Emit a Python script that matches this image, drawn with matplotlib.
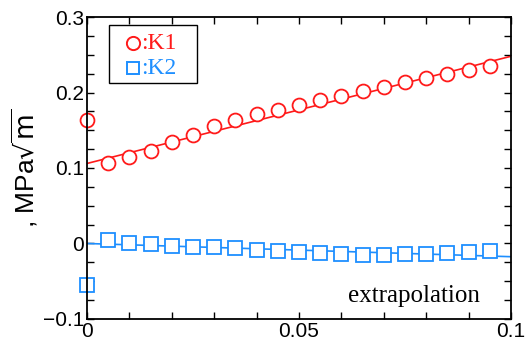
import matplotlib
matplotlib.use("Agg")
import matplotlib.pyplot as plt
from matplotlib.patches import Rectangle
from matplotlib.ticker import MultipleLocator, FixedLocator

# data
x_k1 = [0.0, 0.005, 0.01, 0.015, 0.02, 0.025, 0.03, 0.035, 0.04, 0.045,
        0.05, 0.055, 0.06, 0.065, 0.07, 0.075, 0.08, 0.085, 0.09, 0.095]
k1 = [0.163, 0.107, 0.114, 0.123, 0.134, 0.144, 0.155, 0.163, 0.171, 0.177,
      0.183, 0.190, 0.195, 0.202, 0.207, 0.214, 0.219, 0.225, 0.230, 0.235]
x_k2 = x_k1
k2 = [-0.055, 0.004, 0.001, -0.001, -0.003, -0.004, -0.005, -0.006, -0.008, -0.010,
      -0.011, -0.013, -0.014, -0.015, -0.015, -0.014, -0.0135, -0.013, -0.011, -0.0095]
# extrapolation lines (end points)
fit_x = [0.0, 0.1]
fit_k1 = [0.106, 0.248]
fit_k2 = [0.0, -0.0175]

xticks = [0, 0.05, 0.1]
xtick_labels = ["0", "0.05", "0.1"]
yticks = [-0.1, 0, 0.1, 0.2, 0.3]
ytick_labels = ["\u22120.1", "0", "0.1", "0.2", "0.3"]
legend_labels = [":K1", ":K2"]

red = "#ff1a1a"
blue = "#1e8fff"

fig = plt.figure(figsize=(5.26, 3.45), dpi=100)
ax = fig.add_axes([0.1654, 0.0754, 0.8061, 0.8753])

ax.plot(fit_x, fit_k1, color=red, lw=1.2)
ax.plot(fit_x, fit_k2, color=blue, lw=1.2)
ax.plot(x_k1, k1, 'o', mfc='white', mec=red, mew=1.3, ms=10, clip_on=False)
ax.plot(x_k2, k2, 's', mfc='white', mec=blue, mew=1.3, ms=9.5, clip_on=False)

ax.set_xlim(0, 0.1)
ax.set_ylim(-0.1, 0.3)
ax.xaxis.set_major_locator(FixedLocator(xticks))
ax.xaxis.set_minor_locator(MultipleLocator(0.01))
ax.yaxis.set_major_locator(FixedLocator(yticks))
ax.yaxis.set_minor_locator(MultipleLocator(0.025))
ax.set_xticklabels(xtick_labels)
ax.set_yticklabels(ytick_labels)
ax.tick_params(which='both', direction='in', top=True, right=True,
               length=5, width=1.0, labelsize=15, pad=2)
for lab in ax.get_xticklabels() + ax.get_yticklabels():
    lab.set_fontfamily('Liberation Sans')
for s in ax.spines.values():
    s.set_linewidth(1.3)

ax.set_ylabel(r", MPa$\sqrt{\mathrm{m}}$", fontsize=19, family='Liberation Sans', labelpad=2)

# legend box drawn by hand (axes fraction coords)
ax.add_patch(Rectangle((0.052, 0.7815), 0.2075, 0.192, transform=ax.transAxes,
                       fill=True, facecolor='white', edgecolor='black', lw=1.0, zorder=5))
ax.plot([0.1085], [0.9139], 'o', mfc='white', mec=red, mew=1.4, ms=9.5,
        transform=ax.transAxes, zorder=6)
ax.plot([0.1085], [0.8311], 's', mfc='white', mec=blue, mew=1.4, ms=9,
        transform=ax.transAxes, zorder=6)
ax.text(0.128, 0.9139, legend_labels[0], color=red, fontsize=17,
        family='Liberation Serif', va='center', ha='left', transform=ax.transAxes, zorder=6)
ax.text(0.128, 0.8311, legend_labels[1], color=blue, fontsize=17,
        family='Liberation Serif', va='center', ha='left', transform=ax.transAxes, zorder=6)

ax.text(0.077, -0.069, "extrapolation", fontsize=18, family='Liberation Serif',
        ha='center', va='center')

fig.savefig("out.png", dpi=100)
